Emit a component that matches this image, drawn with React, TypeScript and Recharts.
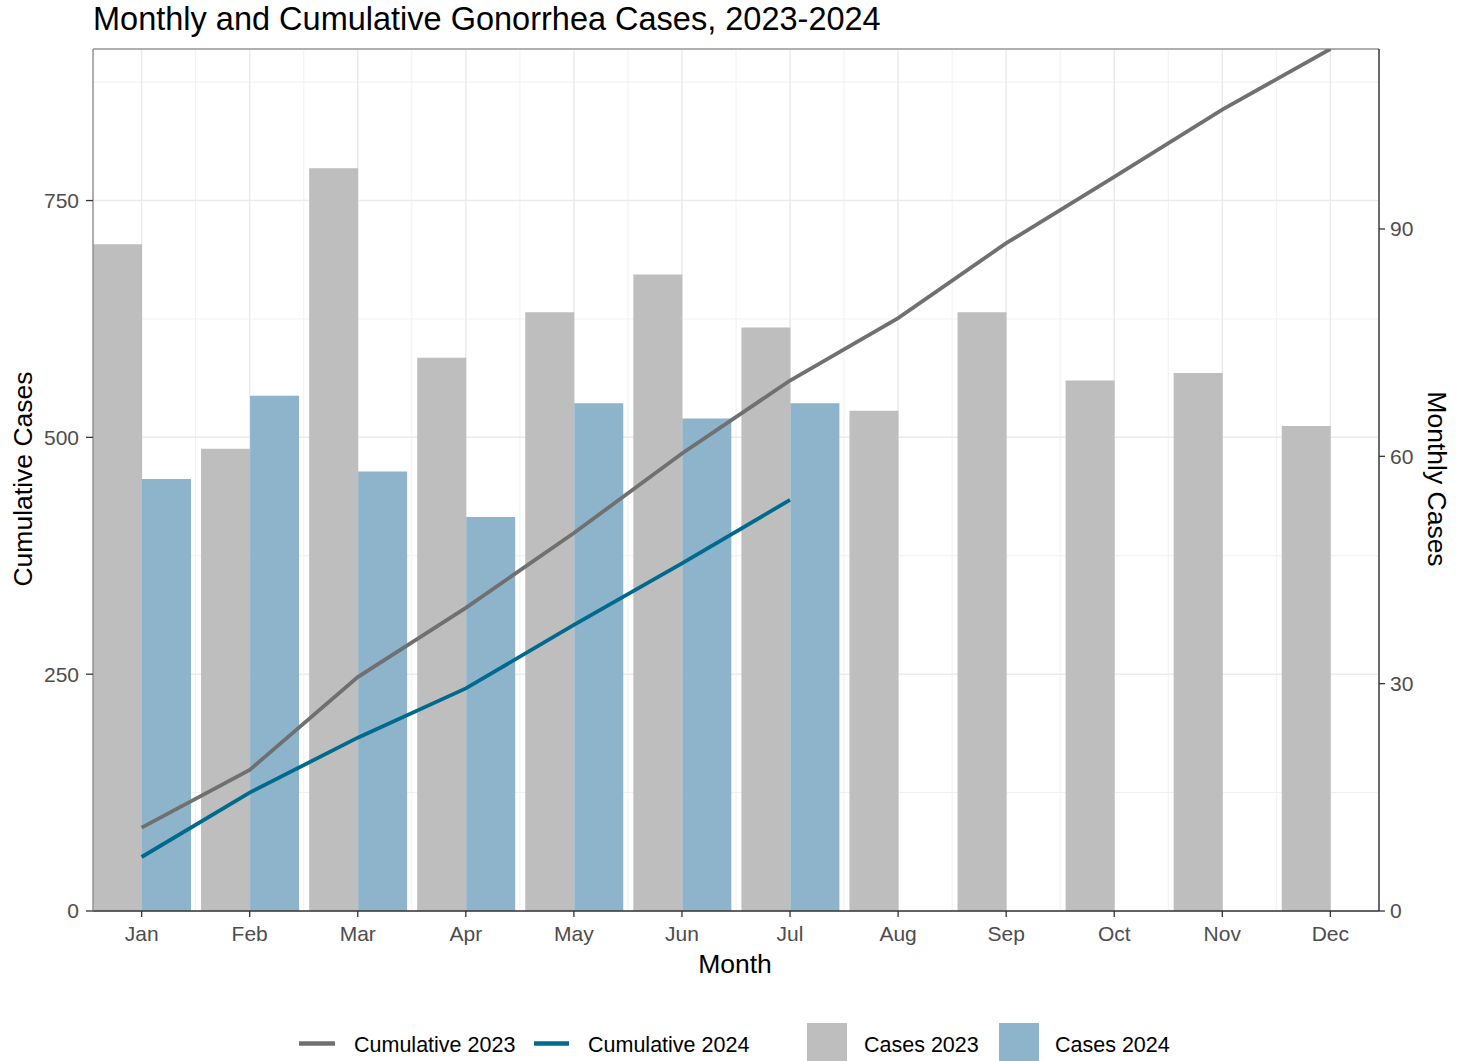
import {
  Bar,
  CartesianGrid,
  ComposedChart,
  Line,
  ReferenceLine,
  XAxis,
  YAxis,
} from "recharts";

const months = ["Jan", "Feb", "Mar", "Apr", "May", "Jun", "Jul", "Aug", "Sep", "Oct", "Nov", "Dec"];
const cases2023 = [88, 61, 98, 73, 79, 84, 77, 66, 79, 70, 71, 64];
const cases2024 = [57, 68, 58, 52, 67, 65, 67, null, null, null, null, null];
const cumulative2023 = [88, 149, 247, 320, 399, 483, 560, 626, 705, 775, 846, 910];
const cumulative2024 = [57, 125, 183, 235, 302, 367, 434, null, null, null, null, null];

const leftTicks = [0, 250, 500, 750];
const leftMinorTicks = [125, 375, 625, 875];
const rightTicks = [0, 30, 60, 90];
const monthPositions = [1, 2, 3, 4, 5, 6, 7, 8, 9, 10, 11, 12];
const minorPositions = [1.5, 2.5, 3.5, 4.5, 5.5, 6.5, 7.5, 8.5, 9.5, 10.5, 11.5];

const FONT = "'Liberation Sans', Arial, sans-serif";
const GRAY_BAR = "#BEBEBE";
const BLUE_BAR = "#8EB4CB";
const GRAY_LINE = "#707070";
const BLUE_LINE = "#006A8E";

const rows = months.map((m, i) => ({
  month: m,
  x: monthPositions[i],
  c23: cases2023[i],
  c24: cases2024[i],
  cum23: cumulative2023[i],
  cum24: cumulative2024[i],
}));

const tickStyle = { fontSize: 21, fill: "#4D4D4D", fontFamily: FONT };

export default function App() {
  return (
    <div style={{ position: "absolute", left: 0, top: 0, width: 1460, height: 1061, background: "#fff" }}>
      <ComposedChart
        width={1460}
        height={1061}
        data={rows}
        margin={{ top: 49, right: 11, bottom: 90, left: 13 }}
        barCategoryGap="5%"
        barGap={0}
      >
        <XAxis
          xAxisId="m"
          dataKey="month"
          type="category"
          padding={{ left: -5.4, right: -5.4 }}
          height={60}
          tick={tickStyle}
          tickSize={6}
          tickMargin={9}
          axisLine={{ stroke: "#333333", strokeWidth: 1.4 }}
          tickLine={{ stroke: "#333333", strokeWidth: 1.3 }}
          interval={0}
        />
        {/* hidden numeric axes: only used to place major / minor vertical grid lines */}
        <XAxis xAxisId="gx" dataKey="x" type="number" orientation="top" height={0} domain={[0.55, 12.45]} ticks={monthPositions} allowDataOverflow hide />
        <XAxis xAxisId="gxm" dataKey="x" type="number" orientation="top" height={0} domain={[0.55, 12.45]} ticks={minorPositions} allowDataOverflow hide />
        <YAxis
          yAxisId="left"
          domain={[0, 910]}
          ticks={leftTicks}
          allowDataOverflow
          width={80}
          tick={tickStyle}
          tickSize={7}
          tickMargin={7}
          axisLine={{ stroke: "#8C8C8C", strokeWidth: 1.3 }}
          tickLine={{ stroke: "#333333", strokeWidth: 1.3 }}
        />
        <YAxis yAxisId="ym" width={0} domain={[0, 910]} ticks={leftMinorTicks} allowDataOverflow hide />
        <YAxis
          yAxisId="right"
          orientation="right"
          domain={[0, 113.75]}
          ticks={rightTicks}
          allowDataOverflow
          width={70}
          tick={tickStyle}
          tickSize={6}
          tickMargin={5}
          axisLine={{ stroke: "#333333", strokeWidth: 1.4 }}
          tickLine={{ stroke: "#333333", strokeWidth: 1.3 }}
        />
        <CartesianGrid xAxisId="gxm" yAxisId="ym" stroke="#EEEEEE" strokeWidth={0.9} />
        <CartesianGrid xAxisId="gx" yAxisId="left" stroke="#EBEBEB" strokeWidth={1.5} />
        <ReferenceLine xAxisId="gx" yAxisId="left" y={910} stroke="#9A9A9A" strokeWidth={1.3} />
        <Bar xAxisId="m" yAxisId="right" dataKey="c23" fill={GRAY_BAR} isAnimationActive={false} />
        <Bar xAxisId="m" yAxisId="right" dataKey="c24" fill={BLUE_BAR} isAnimationActive={false} />
        <Line
          xAxisId="m"
          yAxisId="left"
          type="linear"
          dataKey="cum23"
          stroke={GRAY_LINE}
          strokeWidth={3.8}
          dot={false}
          activeDot={false}
          isAnimationActive={false}
        />
        <Line
          xAxisId="m"
          yAxisId="left"
          type="linear"
          dataKey="cum24"
          stroke={BLUE_LINE}
          strokeWidth={3.8}
          dot={false}
          activeDot={false}
          isAnimationActive={false}
        />
      </ComposedChart>
      <svg
        width={1460}
        height={1061}
        style={{ position: "absolute", left: 0, top: 0, pointerEvents: "none" }}
        fontFamily={FONT}
      >
        <text x={93} y={30} fontSize={32.5} fill="#000">
          Monthly and Cumulative Gonorrhea Cases, 2023-2024
        </text>
        <text x={735} y={973} fontSize={26.5} fill="#000" textAnchor="middle">
          Month
        </text>
        <text x={31.5} y={479} fontSize={26.5} fill="#000" textAnchor="middle" transform="rotate(-90 31.5 479)">
          Cumulative Cases
        </text>
        <text x={1428} y={479} fontSize={26.5} fill="#000" textAnchor="middle" transform="rotate(90 1428 479)">
          Monthly Cases
        </text>
        <g fontSize={21.5} fill="#000">
          <line x1={299} x2={335} y1={1043.5} y2={1043.5} stroke={GRAY_LINE} strokeWidth={4.5} />
          <text x={354} y={1052}>Cumulative 2023</text>
          <line x1={534} x2={569} y1={1043.5} y2={1043.5} stroke={BLUE_LINE} strokeWidth={4.5} />
          <text x={588} y={1052}>Cumulative 2024</text>
          <rect x={807} y={1023} width={40} height={45} fill={GRAY_BAR} />
          <text x={864} y={1052}>Cases 2023</text>
          <rect x={999} y={1023} width={40} height={45} fill={BLUE_BAR} />
          <text x={1055} y={1052}>Cases 2024</text>
        </g>
      </svg>
    </div>
  );
}
